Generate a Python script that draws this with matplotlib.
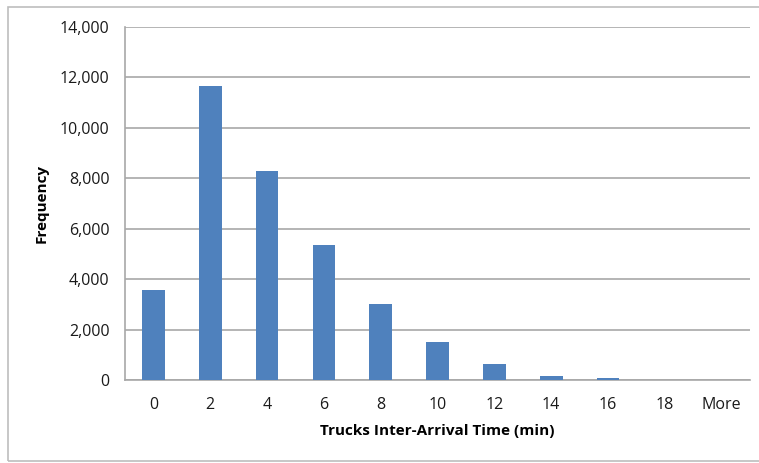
import numpy as np
import matplotlib.pyplot as plt
from matplotlib.patches import Rectangle

# histogram bins and counts
bin_labels = ["0", "2", "4", "6", "8", "10", "12", "14", "16", "18", "More"]
frequency = [3560, 11650, 8300, 5370, 3000, 1490, 625, 170, 60, 0, 0]
y_ticks = [0, 2000, 4000, 6000, 8000, 10000, 12000, 14000]

plt.rcParams["font.family"] = ["Open Sans", "DejaVu Sans"]

fig = plt.figure(figsize=(7.59, 4.63), dpi=100)
ax = fig.add_axes([125 / 759, 83 / 463, 625 / 759, 353 / 463])

x = np.arange(len(bin_labels))
ax.bar(x, frequency, width=0.4, color="#4F81BD", zorder=3)

ax.set_xlim(-0.5, len(bin_labels) - 0.5)
ax.set_ylim(0, 14000)
ax.set_yticks(y_ticks)
ax.set_yticklabels([f"{v:,}" for v in y_ticks])
ax.set_xticks(x)
ax.set_xticklabels(bin_labels)

ax.grid(axis="y", color="#a8a8a8", linewidth=1.2, zorder=0)
for side in ["top", "right"]:
    ax.spines[side].set_visible(False)
for side in ["left", "bottom"]:
    ax.spines[side].set_color("#a8a8a8")
    ax.spines[side].set_linewidth(1.2)

ax.tick_params(axis="both", length=0, labelsize=11.5, colors="#1a1a1a")
ax.tick_params(axis="y", pad=11)
ax.tick_params(axis="x", pad=12)

ax.set_xlabel("Trucks Inter-Arrival Time (min)", fontsize=11,
              fontweight="bold", labelpad=8)
ax.set_ylabel("Frequency", fontsize=11, fontweight="bold", labelpad=8)

# outer chart frame
fig.patches.append(Rectangle((8 / 759, 2 / 463), 760 / 759, 454 / 463,
                             transform=fig.transFigure, fill=False,
                             edgecolor="#bdbdbd", linewidth=1.2))

fig.savefig("out.png", dpi=100)
